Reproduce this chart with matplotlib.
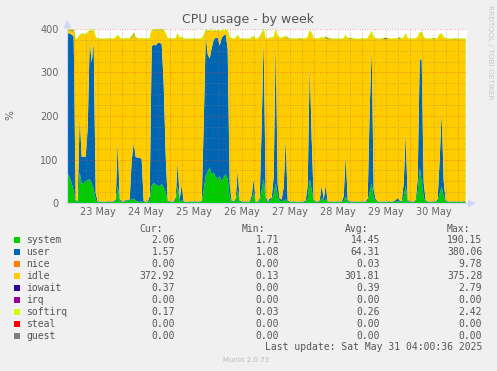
import matplotlib
matplotlib.use('Agg')
import matplotlib.pyplot as plt
from matplotlib.patches import Rectangle
import numpy as np
import pandas as pd

'''Munin style CPU usage graph, one week, hourly samples'''

W, H = 497, 371

# hourly samples from 22 May 21:00 up to 31 May 04:00
start = '2025-05-22 21:00'

system = [
    68, 60, 45,  # 22 May
    28, 4, 3, 70, 44, 46, 50, 52, 55, 45, 32, 8, 2.2, 1.9, 2.0, 2.1, 1.8, 2.2, 2.0, 1.9, 2.3, 3, 40, 4,
    2.0, 2.2, 6, 4, 7, 8, 10, 6, 3, 3, 3, 2, 1.9, 2.1, 5, 40, 46, 42, 40, 38, 44, 36, 25, 3,
    2.1, 1.9, 2.0, 5, 40, 4, 6, 2.2, 2.0, 1.8, 2.1, 1.9, 2.0, 2.2, 1.9, 2.0, 2.4, 30, 62, 72, 82, 66, 70, 60,
    55, 62, 50, 60, 66, 55, 15, 3, 2.0, 5, 30, 3, 2.1, 1.9, 2.0, 2.2, 1.8, 8, 25, 2.1, 2.0, 5, 30, 55,
    6, 2.0, 5, 8, 20, 45, 15, 5, 4, 6, 8, 3, 2.1, 1.9, 2.2, 2.0, 1.8, 2.1, 2.0, 1.9, 3, 10, 55, 30,
    4, 2.0, 2.1, 3, 12, 4, 10, 1.9, 2.0, 2.2, 1.8, 2.0, 2.1, 1.9, 2.0, 5, 15, 3, 2.2, 1.9, 2.0, 2.1, 1.8, 2.0,
    2.1, 1.9, 2.0, 4, 25, 45, 10, 6, 2.2, 2.0, 1.8, 2.1, 2.0, 1.9, 2.2, 2.0, 2.1, 3, 5, 3, 2.0, 15, 40, 4,
    2.0, 2.2, 1.9, 4, 25, 80, 50, 12, 3, 2.0, 2.1, 1.9, 2.2, 2.0, 4, 22, 38, 15, 3, 2.1, 1.9, 2.0, 2.2, 2.0,
    2.0, 2.1, 1.9, 2.2, 2.06,  # 31 May
]
user = [
    322, 330, 342,
    355, 3, 2, 130, 62, 60, 57, 120, 318, 278, 338, 15, 1.6, 1.4, 1.5, 1.3, 1.6, 1.5, 1.7, 1.4, 1.5, 5, 100, 6,
    1.5, 1.4, 2, 2, 2, 90, 128, 100, 101, 101, 98, 2, 1.6, 1.5, 10, 320, 318, 320, 328, 330, 322, 240, 85, 3,
    1.4, 1.6, 1.5, 8, 55, 5, 35, 1.5, 1.3, 1.6, 1.4, 1.5, 1.7, 1.4, 1.5, 1.6, 2.0, 150, 322, 270, 250, 290, 305, 320,
    325, 300, 330, 325, 322, 300, 30, 3, 1.5, 5, 45, 3, 1.4, 1.6, 1.5, 1.3, 1.6, 10, 30, 1.5, 1.4, 5, 150, 325,
    10, 1.5, 5, 4, 40, 330, 28, 5, 4, 30, 140, 3, 1.5, 1.4, 1.6, 1.5, 1.3, 1.6, 1.4, 1.5, 3, 30, 265, 120,
    4, 1.5, 1.4, 3, 28, 4, 30, 1.6, 1.5, 1.3, 1.6, 1.4, 1.5, 1.7, 1.5, 10, 95, 4, 1.4, 1.6, 1.5, 1.3, 1.5, 1.6,
    1.5, 1.4, 1.6, 6, 190, 310, 20, 3, 1.5, 1.3, 1.6, 1.5, 1.4, 1.7, 1.5, 1.4, 1.6, 4, 6, 3, 1.5, 30, 120, 4,
    1.5, 1.4, 1.6, 3, 30, 250, 280, 35, 3, 1.5, 1.3, 1.6, 1.4, 1.5, 5, 80, 170, 35, 3, 1.5, 1.6, 1.4, 1.5, 1.6,
    1.5, 1.4, 1.6, 1.5, 1.57,
]
idle = [
    7, 7, 8,
    12, 370, 373, 185, 282, 282, 280, 218, 22, 72, 27, 357, 374, 373.4, 373.2, 373.5, 373.3, 373.6, 373.1, 373.4, 373, 372, 245, 369,
    373.3, 373.1, 370, 372, 369, 282, 250, 272, 274, 274, 277, 374, 373.4, 373.2, 363, 35, 33, 35, 29, 29, 31, 121, 278, 372,
    373.2, 373.5, 373.3, 365, 293, 370, 340, 373.1, 373.4, 373.2, 373.5, 373.3, 373, 373.4, 373.2, 373.3, 372.6, 205, 11, 53, 63, 40, 20, 15,
    15, 32, 15, 11, 8, 40, 335, 372, 373.4, 368, 310, 372, 373.2, 373.3, 373.5, 373.1, 373.4, 362, 328, 373.3, 373.5, 369, 210, 17,
    362, 373.4, 369, 368, 320, 22, 340, 369, 371, 345, 235, 372, 373.2, 373.5, 373.1, 373.3, 373.6, 373.2, 373.4, 373.3, 372, 340, 75, 240,
    370, 373.3, 373.5, 372, 340, 370, 340, 373.2, 373.4, 373.1, 373.5, 373.3, 373.2, 373.4, 373, 363, 275, 371, 373.3, 373.2, 373.5, 373.4, 373.1, 373.3,
    373.3, 373.5, 373.2, 368, 170, 38, 350, 369, 373.2, 373.4, 373.5, 373.1, 373.3, 373.2, 373.4, 373.1, 373.3, 371, 367, 372, 373.4, 335, 228, 370,
    373.3, 373.2, 373.4, 371, 325, 60, 62, 333, 372, 373.4, 373.5, 373.3, 373.2, 373.4, 370, 285, 180, 330, 372, 373.3, 373.2, 373.4, 373.1, 373.2,
    373.3, 373.1, 373.4, 373.2, 372.92,
]
iowait = [
    0.4, 0.5, 1.8,
    2.0, 0.4, 0.3, 0.5, 0.4, 0.4, 0.3, 0.4, 0.5, 0.4, 0.3, 0.4, 0.3, 0.4, 0.3, 0.4, 0.3, 0.4, 0.5, 0.3, 0.4, 0.3, 0.4, 0.3,
    0.3, 0.4, 0.3, 0.4, 0.3, 2.2, 2.5, 1.6, 0.4, 0.3, 0.4, 0.3, 0.4, 0.3, 0.4, 0.5, 0.4, 0.3, 0.4, 0.3, 0.4, 0.3, 0.4, 0.3,
    0.4, 0.3, 0.4, 0.3, 0.4, 0.3, 0.4, 0.3, 0.4, 0.3, 0.4, 0.3, 0.4, 0.3, 0.4, 0.3, 0.4, 0.3, 0.4, 0.3, 0.4, 0.3, 0.4, 0.3,
    0.3, 0.4, 0.3, 0.4, 0.3, 0.4, 0.3, 0.4, 0.3, 0.4, 0.3, 0.4, 0.3, 0.4, 0.3, 0.4, 0.3, 0.4, 0.3, 0.4, 0.3, 2.0, 0.4, 0.3,
    0.4, 0.3, 0.4, 0.3, 0.4, 0.3, 0.4, 0.3, 0.4, 0.3, 0.4, 2.2, 0.3, 0.4, 0.3, 0.4, 0.3, 1.8, 0.4, 0.3, 0.4, 0.3, 0.4, 0.3,
    0.3, 0.4, 0.3, 0.4, 0.3, 0.4, 2.0, 2.3, 1.5, 0.4, 0.3, 0.4, 0.3, 0.4, 0.3, 0.4, 0.3, 0.4, 2.0, 1.8, 0.4, 0.3, 0.4, 0.3,
    0.4, 0.3, 0.4, 0.3, 0.4, 0.3, 0.4, 0.3, 0.4, 0.3, 0.4, 2.0, 2.79, 1.6, 0.4, 0.3, 0.4, 0.3, 0.4, 2.0, 0.3, 0.4, 0.3, 0.4,
    0.3, 0.4, 0.3, 0.4, 0.3, 0.4, 0.3, 0.4, 0.3, 0.4, 0.3, 0.4, 2.2, 0.4, 0.3, 0.4, 0.3, 0.4, 0.3, 0.4, 0.3, 0.4, 0.3, 1.8,
    0.4, 0.3, 0.4, 0.3, 0.37,
]
softirq = [
    2.2, 2.0, 1.5,
    1.0, 0.2, 0.2, 0.8, 0.6, 0.6, 0.6, 0.8, 2.42, 1.5, 1.2, 0.3, 0.2, 0.2, 0.3, 0.2, 0.2, 0.3, 0.2, 0.2, 0.2, 0.3, 0.6, 0.2,
    0.2, 0.2, 0.3, 0.2, 0.2, 0.5, 0.6, 0.5, 0.5, 0.5, 0.5, 0.2, 0.2, 0.2, 0.3, 1.4, 1.5, 1.4, 1.5, 1.4, 1.5, 1.0, 0.5, 0.2,
    0.2, 0.2, 0.2, 0.2, 0.5, 0.2, 0.3, 0.2, 0.2, 0.2, 0.2, 0.2, 0.2, 0.2, 0.2, 0.2, 0.2, 0.8, 1.6, 1.5, 1.5, 1.4, 1.5, 1.5,
    1.5, 1.4, 1.5, 1.5, 1.6, 1.3, 0.3, 0.2, 0.2, 0.2, 0.4, 0.2, 0.2, 0.2, 0.2, 0.2, 0.2, 0.2, 0.3, 0.2, 0.2, 0.2, 0.8, 1.5,
    0.2, 0.2, 0.2, 0.2, 0.3, 1.5, 0.3, 0.2, 0.2, 0.3, 0.6, 0.2, 0.2, 0.2, 0.2, 0.2, 0.2, 0.2, 0.2, 0.2, 0.2, 0.3, 1.2, 0.6,
    0.2, 0.2, 0.2, 0.2, 0.3, 0.2, 0.3, 0.2, 0.2, 0.2, 0.2, 0.2, 0.2, 0.2, 0.2, 0.2, 0.5, 0.2, 0.2, 0.2, 0.2, 0.2, 0.2, 0.2,
    0.2, 0.2, 0.2, 0.2, 0.8, 1.4, 0.2, 0.2, 0.2, 0.2, 0.2, 0.2, 0.2, 0.2, 0.2, 0.2, 0.2, 0.2, 0.2, 0.2, 0.2, 0.3, 0.6, 0.2,
    0.2, 0.2, 0.2, 0.2, 0.3, 1.2, 1.3, 0.3, 0.2, 0.2, 0.2, 0.2, 0.2, 0.2, 0.2, 0.4, 0.8, 0.3, 0.2, 0.2, 0.2, 0.2, 0.2, 0.2,
    0.2, 0.2, 0.2, 0.2, 0.17,
]

# legend table (values as printed under the graph)
names = ['system', 'user', 'nice', 'idle', 'iowait', 'irq', 'softirq', 'steal', 'guest']
colors = ['#00CC00', '#0066B3', '#FF8000', '#FFCC00', '#330099', '#990099', '#CCFF00', '#FF0000', '#808080']
cur = ['2.06', '1.57', '0.00', '372.92', '0.37', '0.00', '0.17', '0.00', '0.00']
vmin = ['1.71', '1.08', '0.00', '0.13', '0.00', '0.00', '0.03', '0.00', '0.00']
vavg = ['14.45', '64.31', '0.03', '301.81', '0.39', '0.00', '0.26', '0.00', '0.00']
vmax = ['190.15', '380.06', '9.78', '375.28', '2.79', '0.00', '2.42', '0.00', '0.00']

day_labels = ['23 May', '24 May', '25 May', '26 May', '27 May', '28 May', '29 May', '30 May']

times = pd.date_range(start, periods=len(system), freq='h')

fig = plt.figure(figsize=(W / 100, H / 100), dpi=100, facecolor='#F0F0F0')
ax = fig.add_axes([67 / W, (H - 203) / H, 399.7 / W, 174 / H])
ax.set_facecolor('white')

# stacked areas in munin order
ax.stackplot(times, system, user, idle, iowait, softirq,
             colors=['#00CC00', '#0066B3', '#FFCC00', '#330099', '#CCFF00'],
             linewidth=0, zorder=1)
total = np.sum([system, user, idle, iowait, softirq], axis=0)
ax.plot(times, total, color='#CCFF00', lw=0.6, zorder=1.5)

x0 = pd.Timestamp('2025-05-22 20:39')
x1 = pd.Timestamp('2025-05-31 04:30')
ax.set_xlim(x0, x1)
ax.set_ylim(0, 400)

# grid drawn over the data, like rrdtool
minor_c = (0.5, 0.5, 0.5, 0.6)
major_c = (0.88, 0.25, 0.25, 0.65)
dots = (0, (1, 2))
for v in range(25, 400, 25):
    if v % 100:
        ax.axhline(v, color=minor_c, lw=0.6, ls=dots, zorder=2)
for v in [100, 200, 300, 400]:
    ax.axhline(v, color=major_c, lw=0.6, ls=dots, zorder=2, clip_on=False)
for t in pd.date_range('2025-05-23 00:00', '2025-05-31 00:00', freq='6h'):
    if t.hour == 0:
        ax.axvline(t, color=major_c, lw=0.6, ls=dots, zorder=2)
    else:
        ax.axvline(t, color=minor_c, lw=0.6, ls=dots, zorder=2)

noons = pd.date_range('2025-05-23 12:00', periods=len(day_labels), freq='D')
ax.set_xticks(noons)
ax.set_xticklabels(day_labels)
ax.set_yticks([0, 100, 200, 300, 400])
ax.set_yticklabels(['0', '100', '200', '300', '400'])
ax.tick_params(axis='both', length=0, labelsize=7, colors='#666666')
ax.tick_params(axis='y', pad=6)
ax.tick_params(axis='x', pad=3)

for s in ['top', 'right']:
    ax.spines[s].set_visible(False)
for s in ['left', 'bottom']:
    ax.spines[s].set_color('#CFD6F8')
    ax.spines[s].set_linewidth(0.8)
    ax.spines[s].set_zorder(3)

# axis arrows
ax.plot([0], [1.03], marker='^', color='#CFD6F8', markersize=5, transform=ax.transAxes, clip_on=False)
ax.plot([1.01], [0], marker='>', color='#CFD6F8', markersize=5, transform=ax.transAxes, clip_on=False)


def px(x, y):
    return x / W, 1 - y / H


fig.text(*px(248.5, 19), 'CPU usage - by week', ha='center', va='center', fontsize=9, color='#555555')
fig.text(*px(10, 115), '%', ha='center', va='center', rotation=90, fontsize=7.5, color='#666666')
fig.text(*px(490, 5), 'RRDTOOL / TOBI OETIKER', ha='center', va='top', rotation=270,
         fontsize=5.3, color='#C8C8C8')

mono = 'DejaVu Sans Mono'
tc = '#555555'
for hx, ht in [(163.3, 'Cur:'), (265, 'Min:'), (368.3, 'Avg:'), (470, 'Max:')]:
    fig.text(*px(hx, 228.5), ht, ha='right', va='center', fontsize=7, family=mono, color=tc)

for i, name in enumerate(names):
    y = 240 + 11.97 * i
    fig.add_artist(Rectangle(px(14, y + 2.8), 5.5 / W, 5.5 / H, transform=fig.transFigure,
                             facecolor=colors[i], edgecolor='none'))
    fig.text(*px(26.5, y), name, ha='left', va='center', fontsize=7, family=mono, color=tc)
    fig.text(*px(175, y), cur[i], ha='right', va='center', fontsize=7, family=mono, color=tc)
    fig.text(*px(279.3, y), vmin[i], ha='right', va='center', fontsize=7, family=mono, color=tc)
    fig.text(*px(380, y), vavg[i], ha='right', va='center', fontsize=7, family=mono, color=tc)
    fig.text(*px(482.3, y), vmax[i], ha='right', va='center', fontsize=7, family=mono, color=tc)

fig.text(*px(482.3, 347.5), 'Last update: Sat May 31 04:00:36 2025', ha='right', va='center',
         fontsize=7, family=mono, color=tc)
fig.text(*px(245.7, 360), 'Munin 2.0.73', ha='center', va='center', fontsize=5, color='#BBBBBB')

fig.savefig('out.png', dpi=100, facecolor=fig.get_facecolor())
